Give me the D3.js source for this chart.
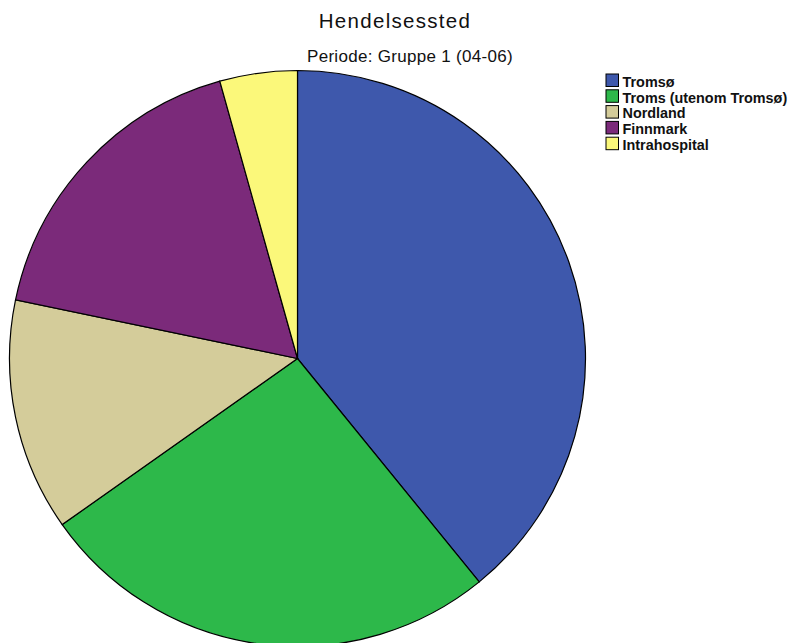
<!DOCTYPE html>
<html>
<head>
<meta charset="utf-8">
<script src="https://cdn.jsdelivr.net/npm/d3@7"></script>
<style>
  body { margin: 0; background: #fff; }
  svg { display: block; }
</style>
</head>
<body>
<div class="visuals"></div>
<script>
// chart data
var categories = ['Tromsø', 'Troms (utenom Tromsø)', 'Nordland', 'Finnmark', 'Intrahospital'];
var counts = [9, 6, 3, 4, 1];
var colors = ['#3e58ac', '#2db84a', '#d4cc9a', '#7b2a7a', '#fbf87a'];

var title = 'Hendelsessted';
var subtitle = 'Periode: Gruppe 1 (04-06)';

document.addEventListener('DOMContentLoaded', function () {
  var width = 792, height = 643;
  var svg = d3.select('.visuals').append('svg')
    .attr('width', width)
    .attr('height', height);

  var data = categories.map(function(c, i){ return { name: c, value: counts[i] }; });

  var color = d3.scaleOrdinal().domain(categories).range(colors);

  var pie = d3.pie()
    .value(function(d){ return d.value; })
    .sort(null);

  var arc = d3.arc().innerRadius(0).outerRadius(288);

  var g = svg.append('g').attr('transform', 'translate(297.5,358.5)');

  g.selectAll('path')
    .data(pie(data))
    .enter().append('path')
    .attr('d', arc)
    .style('fill', function(d){ return color(d.data.name); })
    .style('stroke', 'black')
    .style('stroke-width', '1.2px');

  svg.append('text')
    .text(title)
    .attr('x', 395)
    .attr('y', 27.5)
    .attr('text-anchor', 'middle')
    .style('font-family', 'Liberation Sans, Arial, sans-serif')
    .style('font-size', '20.5px')
    .style('letter-spacing', '1.3px')
    .style('fill', '#111');

  svg.append('text')
    .text(subtitle)
    .attr('x', 410)
    .attr('y', 62)
    .attr('text-anchor', 'middle')
    .style('font-family', 'Liberation Sans, Arial, sans-serif')
    .style('font-size', '17px')
    .style('letter-spacing', '0.3px')
    .style('fill', '#111');

  var legend = svg.append('g').attr('transform', 'translate(606,74)');
  var item = legend.selectAll('g')
    .data(categories)
    .enter().append('g')
    .attr('transform', function(d, i){ return 'translate(0,' + (i * 15.8) + ')'; });

  item.append('rect')
    .attr('width', 12.5)
    .attr('height', 12.5)
    .style('fill', function(d){ return color(d); })
    .style('stroke', 'black')
    .style('stroke-width', '1px');

  item.append('text')
    .text(function(d){ return d; })
    .attr('x', 16.5)
    .attr('y', 12.8)
    .style('font-family', 'Liberation Sans, Arial, sans-serif')
    .style('font-size', '14.4px')
    .style('font-weight', 'bold')
    .style('fill', '#111');
});
</script>
</body>
</html>
